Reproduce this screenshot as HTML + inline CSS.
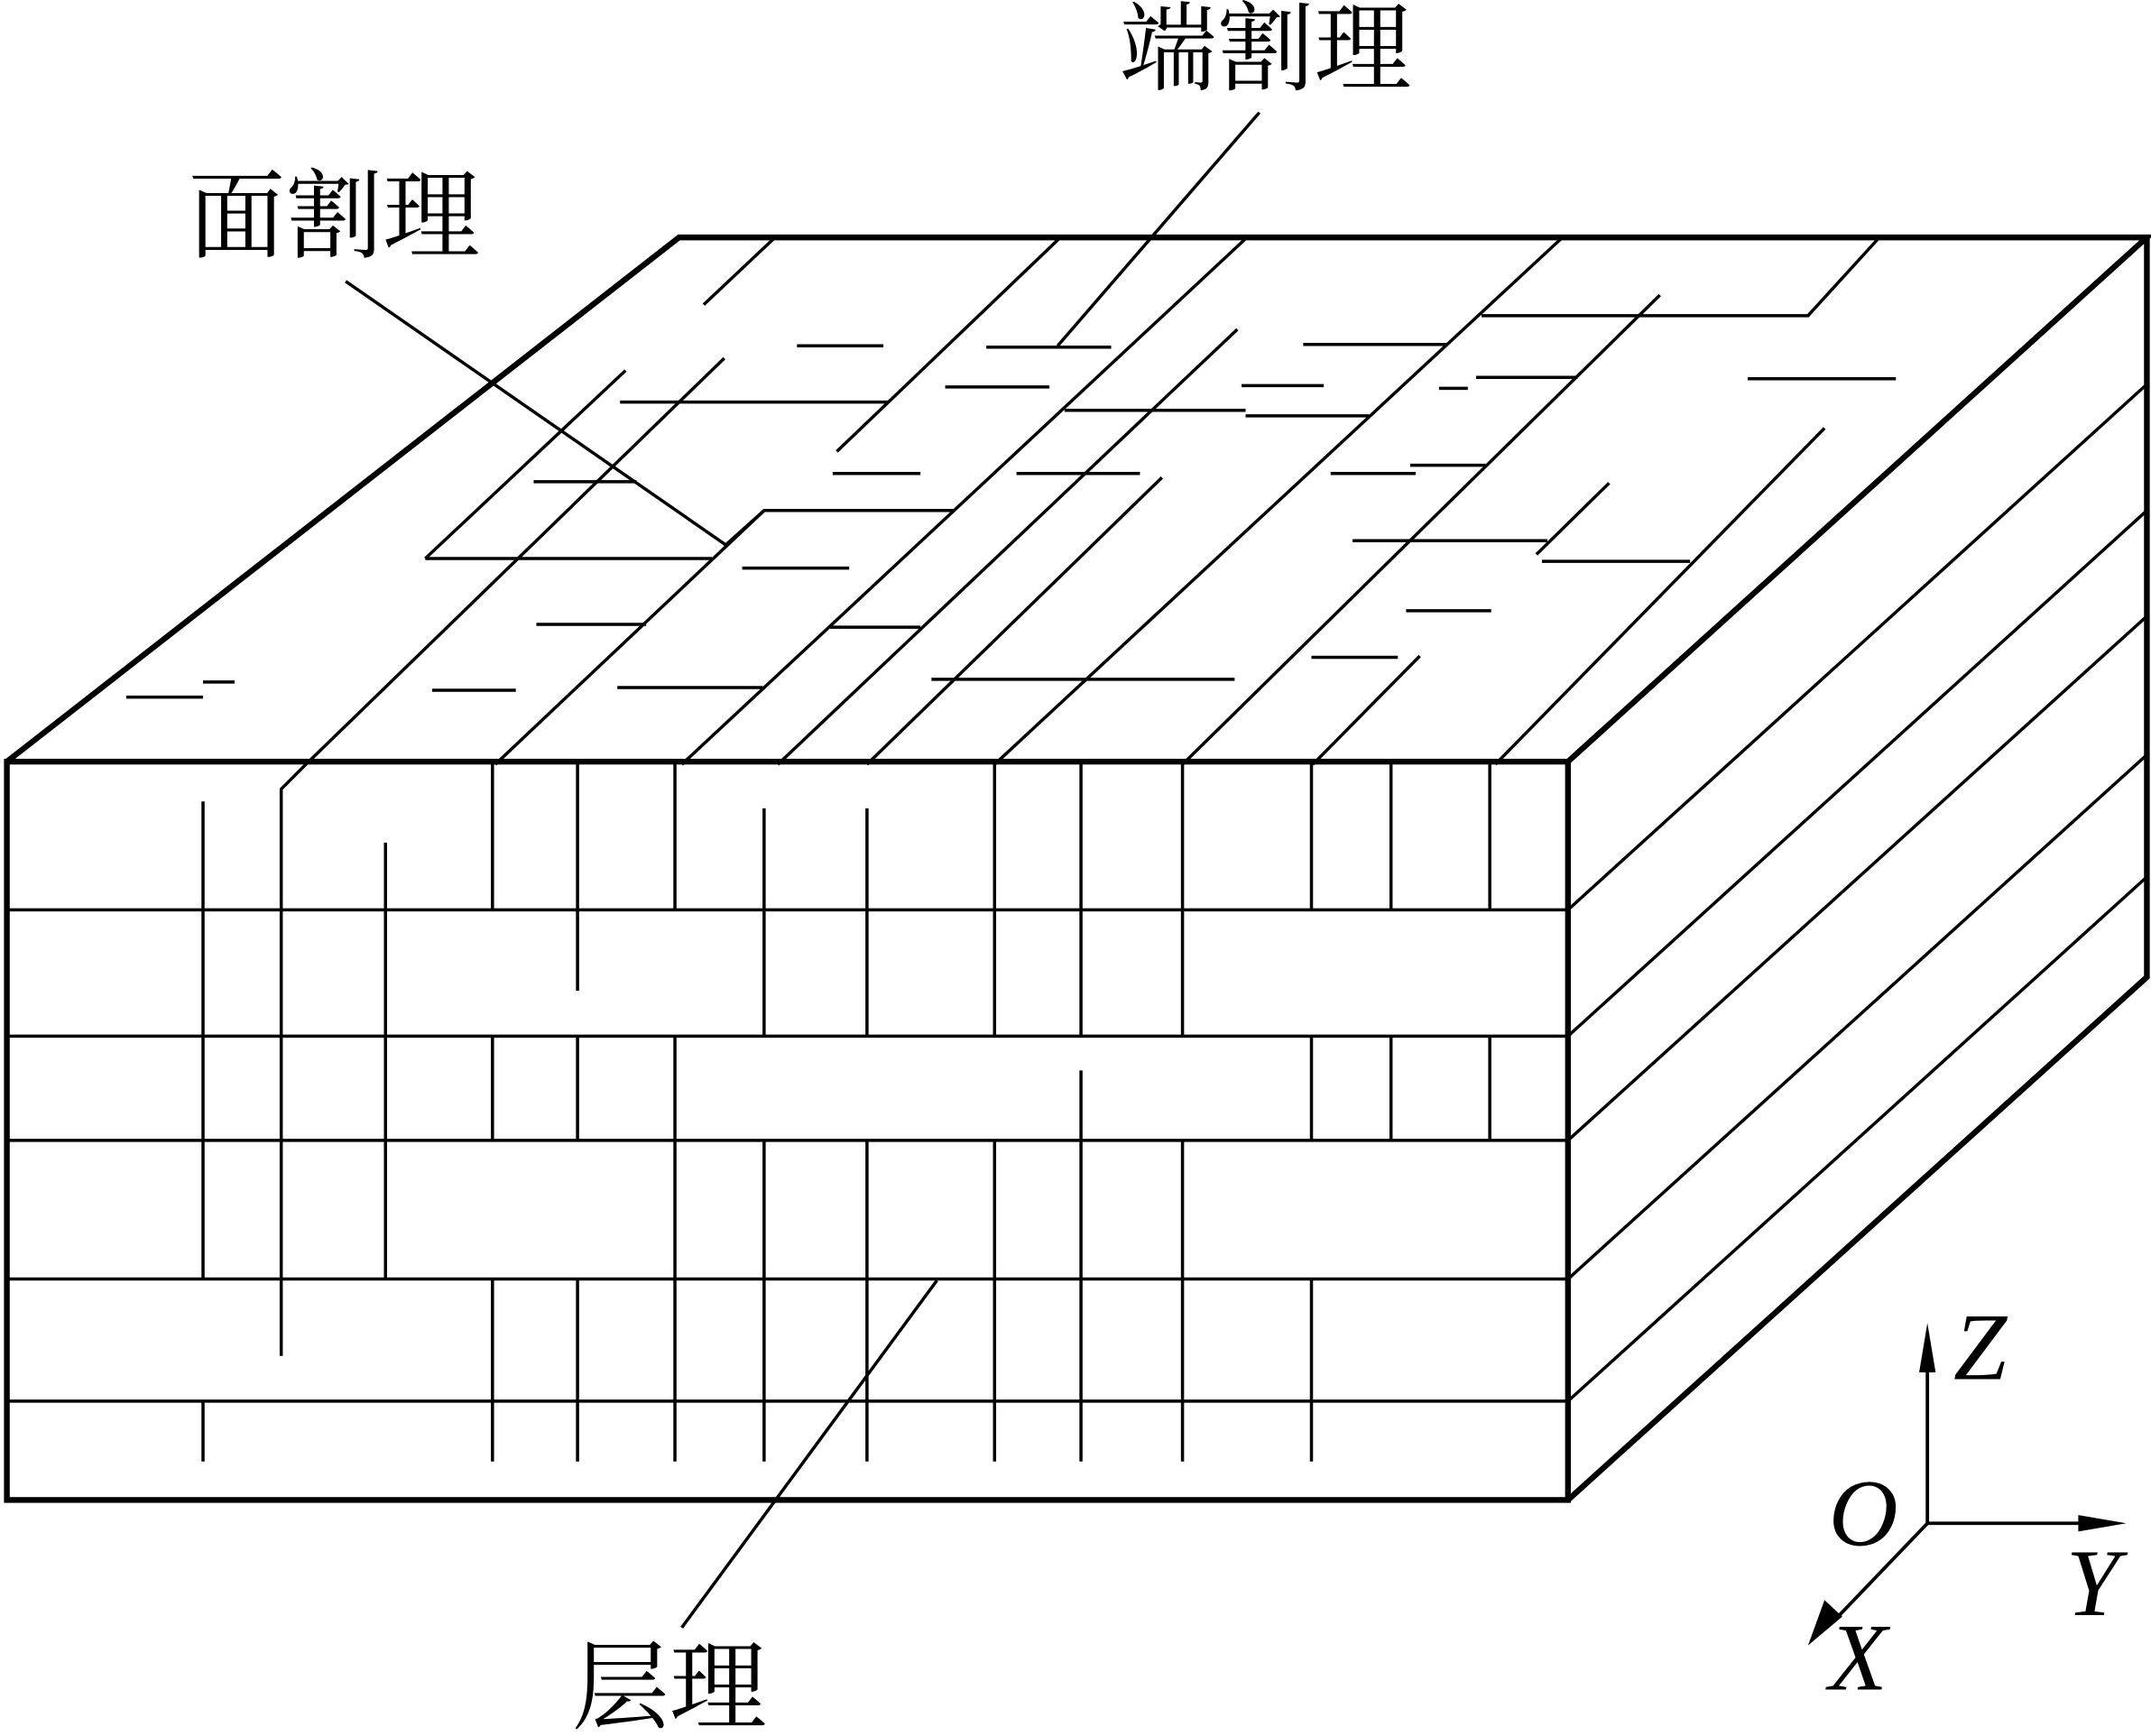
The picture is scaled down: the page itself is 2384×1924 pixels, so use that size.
<!DOCTYPE html>
<html><head><meta charset="utf-8"><style>
html,body{margin:0;padding:0;background:#fff;}
svg{display:block;}
</style></head><body>
<svg width="2384" height="1924" viewBox="0 0 1568 1265" preserveAspectRatio="none" xmlns="http://www.w3.org/2000/svg">
<g stroke="#000" stroke-width="2.3" fill="none" stroke-linecap="butt">
<!-- front face layering -->
<line x1="5" y1="663" x2="1143" y2="663"/>
<line x1="5" y1="755" x2="1143" y2="755"/>
<line x1="5" y1="831" x2="1143" y2="831"/>
<line x1="5" y1="932" x2="1143" y2="932"/>
<line x1="5" y1="1021" x2="1143" y2="1021"/>
<!-- front verticals -->
<line x1="148" y1="584" x2="148" y2="932"/><line x1="148" y1="1021" x2="148" y2="1065"/>
<polyline points="528,261 223,557 205,575 205,988"/>
<line x1="281" y1="614" x2="281" y2="932"/>
<line x1="359" y1="555" x2="359" y2="663"/><line x1="359" y1="755" x2="359" y2="831"/><line x1="359" y1="932" x2="359" y2="1065"/>
<line x1="421" y1="555" x2="421" y2="722"/><line x1="421" y1="755" x2="421" y2="831"/><line x1="421" y1="932" x2="421" y2="1065"/>
<line x1="492" y1="555" x2="492" y2="663"/><line x1="492" y1="755" x2="492" y2="1065"/>
<line x1="557" y1="589" x2="557" y2="755"/><line x1="557" y1="831" x2="557" y2="1065"/>
<line x1="632" y1="589" x2="632" y2="755"/><line x1="632" y1="831" x2="632" y2="1065"/>
<line x1="725" y1="555" x2="725" y2="755"/><line x1="725" y1="831" x2="725" y2="1065"/>
<line x1="788" y1="555" x2="788" y2="755"/><line x1="788" y1="780" x2="788" y2="1065"/>
<line x1="862" y1="555" x2="862" y2="755"/><line x1="862" y1="831" x2="862" y2="1065"/>
<line x1="956" y1="555" x2="956" y2="663"/><line x1="956" y1="755" x2="956" y2="831"/><line x1="956" y1="932" x2="956" y2="1065"/>
<line x1="1014" y1="555" x2="1014" y2="663"/><line x1="1014" y1="755" x2="1014" y2="831"/>
<line x1="1086" y1="555" x2="1086" y2="663"/><line x1="1086" y1="755" x2="1086" y2="831"/>
<!-- right face -->
<line x1="1143" y1="663" x2="1565" y2="280"/>
<line x1="1143" y1="755" x2="1565" y2="372"/>
<line x1="1143" y1="831" x2="1565" y2="449"/>
<line x1="1143" y1="932" x2="1565" y2="550"/>
<line x1="1143" y1="1021" x2="1565" y2="639"/>
<!-- top face diagonals -->
<line x1="513" y1="222" x2="565" y2="173"/>
<line x1="773" y1="173" x2="610" y2="329"/>
<line x1="909" y1="173" x2="497" y2="557"/>
<line x1="902" y1="240" x2="567" y2="557"/>
<line x1="847" y1="348" x2="632" y2="557"/>
<line x1="1139" y1="173" x2="725" y2="557"/>
<line x1="1210" y1="215" x2="862" y2="557"/>
<line x1="1173" y1="352" x2="1120" y2="404"/>
<line x1="1035" y1="478" x2="957" y2="557"/>
<line x1="1330" y1="312" x2="1090" y2="557"/>
<line x1="456" y1="270" x2="310" y2="407"/>
<polyline points="528,398 557,372 695,372"/>
<line x1="557" y1="372" x2="361" y2="557"/>
<polyline points="1080,230 1318,230 1370,173"/>
<!-- top face horizontals -->
<line x1="581" y1="252" x2="644" y2="252"/>
<line x1="719" y1="253" x2="810" y2="253"/>
<line x1="689" y1="282" x2="765" y2="282"/>
<line x1="452" y1="293" x2="647" y2="293"/>
<line x1="389" y1="351" x2="464" y2="351"/>
<line x1="310" y1="407" x2="519" y2="407"/>
<line x1="607" y1="345" x2="671" y2="345"/>
<line x1="541" y1="414" x2="619" y2="414"/>
<line x1="605" y1="457" x2="671" y2="457"/>
<line x1="391" y1="455" x2="471" y2="455"/>
<line x1="315" y1="503" x2="376" y2="503"/>
<line x1="450" y1="501" x2="556" y2="501"/>
<line x1="148" y1="497" x2="171" y2="497"/>
<line x1="92" y1="508" x2="148" y2="508"/>
<line x1="950" y1="251" x2="1055" y2="251"/>
<line x1="1076" y1="275" x2="1150" y2="275"/>
<line x1="1049" y1="283" x2="1070" y2="283"/>
<line x1="905" y1="281" x2="965" y2="281"/>
<line x1="776" y1="299" x2="908" y2="299"/>
<line x1="908" y1="303" x2="998" y2="303"/>
<line x1="741" y1="345" x2="831" y2="345"/>
<line x1="970" y1="345" x2="1032" y2="345"/>
<line x1="1028" y1="339" x2="1083" y2="339"/>
<line x1="986" y1="394" x2="1128" y2="394"/>
<line x1="1124" y1="409" x2="1232" y2="409"/>
<line x1="1025" y1="445" x2="1087" y2="445"/>
<line x1="956" y1="479" x2="1019" y2="479"/>
<line x1="679" y1="495" x2="900" y2="495"/>
<line x1="1274" y1="276" x2="1382" y2="276"/>
<!-- leaders -->
<line x1="252" y1="205" x2="529" y2="397"/>
<line x1="918" y1="82" x2="771" y2="252"/>
<line x1="683" y1="933" x2="497" y2="1186"/>
</g>
<!-- outline -->
<g stroke="#000" stroke-width="4.2" fill="none" stroke-linejoin="miter">
<rect x="5" y="555" width="1138" height="538"/>
<polyline points="5,555 495,173 1565,173 1143,555"/>
<polyline points="1565,173 1565,712 1143,1093"/>
</g>
<!-- axes -->
<g stroke="#000" stroke-width="2.5" fill="none">
<line x1="1405" y1="1110" x2="1405" y2="990"/>
<line x1="1405" y1="1110" x2="1525" y2="1110"/>
<line x1="1405" y1="1110" x2="1337" y2="1181"/>
</g>
<g fill="#000">
<polygon points="1405,964 1399,1000 1411,1000"/>
<polygon points="1550,1110 1515,1104 1515,1116"/>
<polygon points="1318,1199 1330,1166 1343,1178"/>
</g>
<g font-family="'Liberation Serif', serif" font-style="italic" font-size="70" fill="#000">
<text x="1424" y="1005">Z</text>
<text x="1333" y="1126">O</text>
<text x="1506" y="1177">Y</text>
<text x="1333" y="1231">X</text>
</g>
<g font-family="'Liberation Serif','Noto Serif CJK SC',serif" font-size="71" fill="#000">
<text x="816" y="60">端割理</text>
<text x="137" y="182">面割理</text>
<text x="417" y="1254">层理</text>
</g>
</svg>
</body></html>
